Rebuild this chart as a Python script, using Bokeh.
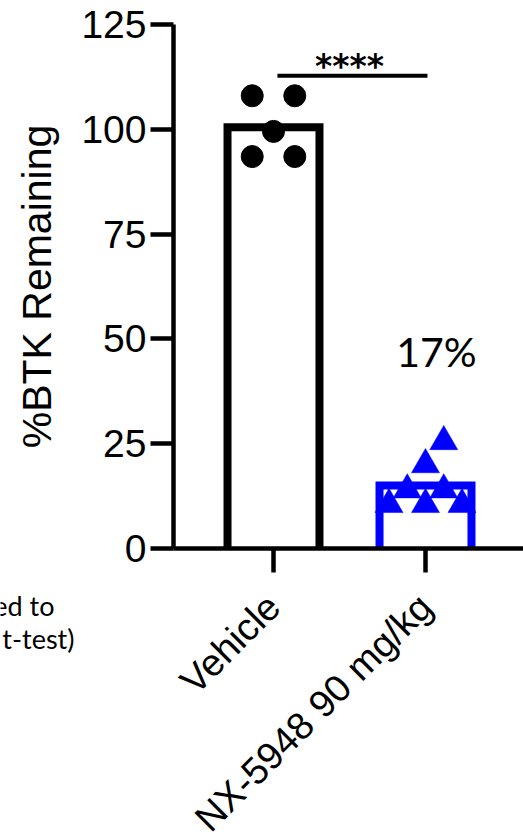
import math
from bokeh.plotting import figure
from bokeh.models import Label, FixedTicker, Range1d
from bokeh.embed import file_html
from bokeh.resources import INLINE

# ---------------- data ----------------
groups = ["Vehicle", "NX-5948 90 mg/kg"]
group_pos = [1, 2]
vehicle_vals = [108.0, 108.0, 99.5, 93.5, 93.5]
vehicle_jitter = [-0.14, 0.14, 0.0, -0.14, 0.14]
nx_vals = [25.5, 20.0, 14.0, 14.0, 10.5, 10.5, 10.5]
nx_jitter = [0.12, 0.0, -0.12, 0.12, -0.24, 0.0, 0.24]
y_ticks = [0, 25, 50, 75, 100, 125]
pct_label = "17%"
pct_y = 47.0
sig_text = "****"
sig_y = 112.8
fragments = ["ed to", "t-test)"]

means = [sum(vehicle_vals) / len(vehicle_vals), sum(nx_vals) / len(nx_vals)]

BLUE = "#0000ff"
FONT = "Liberation Sans"

W, H = 523, 836
# pixel geometry of the plotting area (canvas pixels)
AX_X, ZERO_Y = 173, 548          # y-axis line x, y=0 line
PX_X = 152.0                     # pixels per category step
PX_Y = 524.0 / 125.0             # pixels per y unit
X1_PX = 273                      # pixel of first category

x_start = 1 - X1_PX / PX_X
x_end = 1 + (W - X1_PX) / PX_X
y_start = -(H - ZERO_Y) / PX_Y
y_end = ZERO_Y / PX_Y
axis_x = 1 + (AX_X - X1_PX) / PX_X

p = figure(width=W, height=H, output_backend="svg", toolbar_location=None,
           x_range=Range1d(x_start, x_end), y_range=Range1d(y_start, y_end),
           min_border=0, min_border_left=0, min_border_right=0,
           min_border_top=0, min_border_bottom=0)
p.outline_line_color = None
p.grid.visible = False
p.background_fill_color = "white"
p.border_fill_color = "white"

# y axis
ya = p.yaxis[0]
ya.fixed_location = axis_x
ya.bounds = (0, 125)
ya.ticker = FixedTicker(ticks=y_ticks)
ya.minor_tick_line_color = None
ya.major_tick_in = 0
ya.major_tick_out = 23
ya.major_tick_line_width = 4.5
ya.axis_line_width = 4.5
ya.major_tick_line_color = "black"
ya.axis_line_color = "black"
ya.major_label_text_font = FONT
ya.major_label_text_font_size = "39px"
ya.major_label_text_color = "black"
ya.major_label_standoff = 4
ya.axis_label = "%BTK Remaining"
ya.axis_label_text_font = FONT
ya.axis_label_text_font_size = "41px"
ya.axis_label_text_font_style = "normal"
ya.axis_label_text_color = "black"
ya.axis_label_standoff = 18

# x axis with rotated category labels
xa = p.xaxis[0]
xa.fixed_location = 0
xa.bounds = (axis_x, x_end)
xa.ticker = FixedTicker(ticks=group_pos)
xa.major_label_overrides = {gx: g for gx, g in zip(group_pos, groups)}
xa.major_label_orientation = math.pi / 4
xa.major_label_standoff = 28
xa.major_label_text_font = FONT
xa.major_label_text_font_size = "38px"
xa.major_label_text_color = "black"
xa.minor_tick_line_color = None
xa.major_tick_in = 0
xa.major_tick_out = 24
xa.major_tick_line_width = 4.5
xa.axis_line_width = 4.5
xa.major_tick_line_color = "black"
xa.axis_line_color = "black"

# bars as open outlines (bottom hidden by axis)
bw = 0.605
bar_colors = ["black", BLUE]
xs = [[x - bw / 2, x - bw / 2, x + bw / 2, x + bw / 2] for x in group_pos]
ys = [[0, m, m, 0] for m in means]
p.multi_line(xs=xs, ys=ys, line_color=bar_colors, line_width=8, line_join="miter")

# points
p.scatter([group_pos[0] + j for j in vehicle_jitter], vehicle_vals,
          marker="circle", size=22, fill_color="black", line_color="black")
p.scatter([group_pos[1] + j for j in nx_jitter], nx_vals,
          marker="triangle", size=28, fill_color=BLUE, line_color=BLUE, line_width=0.5)

# significance bar
p.segment(x0=[group_pos[0] + 0.026], y0=[sig_y], x1=[group_pos[1] + 0.013], y1=[sig_y],
          line_color="black", line_width=4)
p.add_layout(Label(x=(group_pos[0] + group_pos[1]) / 2, y=sig_y, y_offset=9,
                   text=sig_text, text_font="DejaVu Sans", text_font_size="33px",
                   text_font_style="bold",
                   text_align="center", text_baseline="alphabetic", text_color="black"))

# percentage label
p.add_layout(Label(x=group_pos[1] + 0.072, y=pct_y,
                   text=pct_label, text_font="Lato", text_font_size="41px",
                   text_align="center", text_baseline="alphabetic", text_color="black"))

# cut-off text fragments at left edge (from neighbouring panel)
def to_data(px, py):
    return (1 + (px - X1_PX) / PX_X, (ZERO_Y - py) / PX_Y)

for txt, (fx, fy) in zip(fragments, [(54, 605), (74, 638)]):
    dx, dy = to_data(fx, fy)
    p.add_layout(Label(x=dx, y=dy, text=txt, text_font="Lato", text_font_size="27px",
                       text_align="right", text_baseline="alphabetic", text_color="black"))

open("out.html", "w").write(file_html(p, INLINE))
